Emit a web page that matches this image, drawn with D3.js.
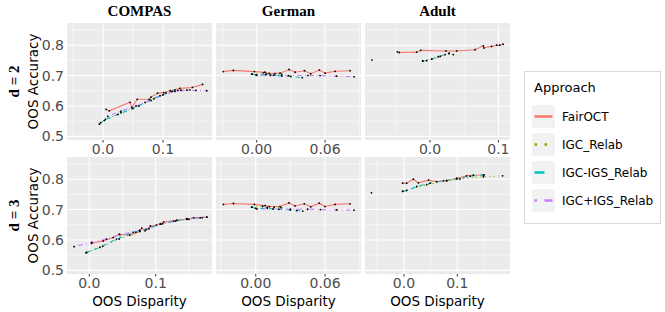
<!DOCTYPE html>
<html>
<head>
<meta charset="utf-8">
<script src="https://cdn.jsdelivr.net/npm/d3@7"></script>
<style>
  body { margin: 0; background: #fff; }
  svg { display: block; }
</style>
</head>
<body>
<div id="chart"></div>
<script>
// categories
var datasets = ["COMPAS", "German", "Adult"];
var depths = ["d = 2", "d = 3"];
var approaches = ["FairOCT", "IGC_Relab", "IGC-IGS_Relab", "IGC+IGS_Relab"];

// axis ticks / ranges (one per dataset column, one range per row)
var yTicks = [0.5, 0.6, 0.7, 0.8];
var yRange = [0.488, 0.873];
var xTicks = [[0, 0.1], [0, 0.06], [0, 0.1]];
var xTickLabels = [["0.0", "0.1"], ["0.00", "0.06"], ["0.0", "0.1"]];
var xRangeD2 = [[-0.06, 0.1817], [-0.0357, 0.0915], [-0.0951, 0.117]];
var xRangeD3 = [[-0.0336, 0.1848], [-0.0344, 0.0911], [-0.0731, 0.1988]];

// series values: [OOS disparity, OOS accuracy]
var compas2_fairoct = [[0.005,0.589],[0.0105,0.584],[0.045,0.612],[0.048,0.595],[0.057,0.622],[0.077,0.622],[0.080,0.629],[0.091,0.642],[0.101,0.644],[0.112,0.650],[0.120,0.653],[0.128,0.658],[0.149,0.661],[0.166,0.671]];
var compas2_igc = [[-0.004,0.545],[0.002,0.552],[0.030,0.578],[0.060,0.600],[0.085,0.624],[0.105,0.643],[0.125,0.651],[0.145,0.653]];
var compas2_igcigs = [[-0.006,0.540],[0.004,0.556],[0.025,0.572],[0.050,0.592],[0.070,0.612],[0.095,0.634],[0.115,0.648],[0.130,0.652]];
var compas2_igcplus = [[0.008,0.566],[0.030,0.583],[0.055,0.600],[0.080,0.618],[0.100,0.636],[0.120,0.648],[0.140,0.652],[0.155,0.651],[0.173,0.650]];

var compas3_fairoct = [[0.0035,0.589],[0.021,0.597],[0.036,0.608],[0.045,0.619],[0.061,0.616],[0.076,0.628],[0.079,0.639],[0.084,0.630],[0.092,0.646],[0.101,0.649],[0.112,0.659],[0.132,0.665],[0.147,0.668],[0.157,0.673],[0.177,0.675]];
var compas3_igc = [[-0.004,0.559],[0.020,0.579],[0.045,0.603],[0.070,0.625],[0.090,0.637],[0.110,0.653],[0.130,0.662],[0.150,0.668],[0.170,0.673]];
var compas3_igcigs = [[-0.005,0.558],[0.016,0.576],[0.041,0.603],[0.066,0.625],[0.086,0.635],[0.107,0.652],[0.127,0.662],[0.147,0.669],[0.167,0.673]];
var compas3_igcplus = [[-0.023,0.578],[0.0035,0.592],[0.026,0.603],[0.046,0.617],[0.076,0.632],[0.107,0.652],[0.147,0.670],[0.177,0.675]];

var german2_fairoct = [[-0.0293,0.713],[-0.0205,0.717],[-0.002,0.713],[0.0073,0.711],[0.011,0.707],[0.0205,0.708],[0.0284,0.720],[0.0337,0.711],[0.0419,0.716],[0.0474,0.706],[0.055,0.718],[0.060,0.708],[0.0688,0.714],[0.082,0.716]];
var german2_igc = [[-0.004,0.705],[0.0059,0.709],[0.0088,0.705],[0.016,0.706],[0.022,0.704]];
var german2_igcigs = [[-0.0044,0.705],[-0.0006,0.702],[0.008,0.703],[0.015,0.701],[0.022,0.699],[0.030,0.697],[0.040,0.693]];
var german2_igcplus = [[0.0,0.701],[0.012,0.701],[0.028,0.700],[0.045,0.700],[0.0556,0.700],[0.070,0.698],[0.0855,0.696]];

var german3_fairoct = [[-0.028,0.717],[-0.0193,0.720],[-0.0012,0.717],[0.0081,0.713],[0.0118,0.710],[0.021,0.710],[0.0288,0.722],[0.034,0.712],[0.042,0.719],[0.0476,0.709],[0.055,0.721],[0.060,0.710],[0.0687,0.717],[0.0816,0.719]];
var german3_igc = [[-0.0035,0.708],[0.006,0.711],[0.010,0.707],[0.016,0.708],[0.022,0.706]];
var german3_igcigs = [[-0.0035,0.708],[0.000,0.704],[0.010,0.704],[0.020,0.701],[0.030,0.699],[0.0355,0.697],[0.0407,0.695]];
var german3_igcplus = [[0.001,0.702],[0.015,0.702],[0.030,0.701],[0.045,0.701],[0.056,0.700],[0.070,0.699],[0.085,0.698]];

var adult2_fairoct = [[-0.0478,0.778],[-0.0449,0.776],[-0.0195,0.777],[-0.0137,0.783],[0.0234,0.781],[0.039,0.781],[0.0659,0.785],[0.078,0.798],[0.079,0.791],[0.090,0.796],[0.0976,0.800],[0.102,0.800],[0.107,0.803]];
var adult2_igc = [[-0.0107,0.748],[0.0024,0.754],[0.015,0.763],[0.028,0.773],[0.034,0.769]];
var adult2_igcigs = [[-0.0107,0.748],[-0.005,0.749],[0.0024,0.754],[0.012,0.762],[0.022,0.769],[0.028,0.773]];
var adult2_igcplus = [[-0.085,0.751]];

var adult3_fairoct = [[-0.0025,0.787],[0.005,0.787],[0.0175,0.800],[0.027,0.788],[0.046,0.797],[0.061,0.792],[0.080,0.795],[0.099,0.803],[0.1175,0.811],[0.130,0.813],[0.150,0.814]];
var adult3_igc = [[-0.0025,0.760],[0.0425,0.782],[0.080,0.795],[0.105,0.801],[0.149,0.808],[0.185,0.811]];
var adult3_igcigs = [[-0.0025,0.760],[0.005,0.763],[0.024,0.776],[0.049,0.787],[0.074,0.795],[0.099,0.801],[0.124,0.810],[0.149,0.814]];
var adult3_igcplus = [[-0.061,0.755]];

// panel lookup: rows = depth, cols = dataset, series in approach order
var panelSeries = [
	[[compas2_fairoct, compas2_igc, compas2_igcigs, compas2_igcplus],
	 [german2_fairoct, german2_igc, german2_igcigs, german2_igcplus],
	 [adult2_fairoct, adult2_igc, adult2_igcigs, adult2_igcplus]],
	[[compas3_fairoct, compas3_igc, compas3_igcigs, compas3_igcplus],
	 [german3_fairoct, german3_igc, german3_igcigs, german3_igcplus],
	 [adult3_fairoct, adult3_igc, adult3_igcigs, adult3_igcplus]]
];
var xRanges = [xRangeD2, xRangeD3];

var width = 665, height = 312;
var panelX = [67, 216, 365], panelW = 145;
var panelY = [23, 157], panelH = 117;

var colors = d3.scaleOrdinal()
	.domain(approaches)
	.range(["#F8766D", "#7CAE00", "#00BFC4", "#C77CFF"]);
var lw = 1.1;
function dashes(a, w) {
	// ggplot linetypes: solid, dotted, dashed, dotdash
	if (a == "IGC_Relab") return [1, 3].map(function (v) { return v * w; }).join(",");
	if (a == "IGC-IGS_Relab") return [4, 4].map(function (v) { return v * w; }).join(",");
	if (a == "IGC+IGS_Relab") return [1, 3, 4, 3].map(function (v) { return v * w; }).join(",");
	return null;
}

var svg = d3.select("#chart").append("svg")
	.attr("width", width)
	.attr("height", height)
	.style("font-family", "'DejaVu Sans', sans-serif");

var serif = "'Liberation Serif', 'DejaVu Serif', serif";

depths.forEach(function (dep, r) {
	var y = d3.scaleLinear().domain(yRange).range([panelY[r] + panelH, panelY[r]]);

	datasets.forEach(function (ds, c) {
		var x = d3.scaleLinear().domain(xRanges[r][c]).range([panelX[c], panelX[c] + panelW]);
		var g = svg.append("g");

		g.append("rect")
			.attr("x", panelX[c]).attr("y", panelY[r])
			.attr("width", panelW).attr("height", panelH)
			.attr("fill", "#EBEBEB");

		// minor grid
		var step = xTicks[c][1] - xTicks[c][0];
		var xMinor = [xTicks[c][0] - step / 2];
		xTicks[c].forEach(function (t) { xMinor.push(t + step / 2); });
		xMinor = xMinor.filter(function (v) { return v > xRanges[r][c][0] && v < xRanges[r][c][1]; });
		var yMinor = [0.55, 0.65, 0.75, 0.85];

		g.selectAll(".xminor").data(xMinor).enter().append("line")
			.attr("x1", function (d) { return x(d); }).attr("x2", function (d) { return x(d); })
			.attr("y1", panelY[r]).attr("y2", panelY[r] + panelH)
			.attr("stroke", "#fff").attr("stroke-width", 0.55);
		g.selectAll(".yminor").data(yMinor).enter().append("line")
			.attr("y1", function (d) { return y(d); }).attr("y2", function (d) { return y(d); })
			.attr("x1", panelX[c]).attr("x2", panelX[c] + panelW)
			.attr("stroke", "#fff").attr("stroke-width", 0.55);
		// major grid
		g.selectAll(".xmajor").data(xTicks[c]).enter().append("line")
			.attr("x1", function (d) { return x(d); }).attr("x2", function (d) { return x(d); })
			.attr("y1", panelY[r]).attr("y2", panelY[r] + panelH)
			.attr("stroke", "#fff").attr("stroke-width", 1.1);
		g.selectAll(".ymajor").data(yTicks).enter().append("line")
			.attr("y1", function (d) { return y(d); }).attr("y2", function (d) { return y(d); })
			.attr("x1", panelX[c]).attr("x2", panelX[c] + panelW)
			.attr("stroke", "#fff").attr("stroke-width", 1.1);

		// lines then points
		var line = d3.line()
			.x(function (d) { return x(d[0]); })
			.y(function (d) { return y(d[1]); });
		var ser = panelSeries[r][c];
		approaches.forEach(function (a, i) {
			var pts = ser[i].slice().sort(function (p, q) { return p[0] - q[0]; });
			if (pts.length > 1) {
				g.append("path")
					.datum(pts)
					.attr("d", line)
					.attr("fill", "none")
					.attr("stroke", colors(a))
					.attr("stroke-width", lw)
					.attr("stroke-dasharray", dashes(a, lw));
			}
		});
		approaches.forEach(function (a, i) {
			g.selectAll(".pt" + i).data(ser[i]).enter().append("circle")
				.attr("cx", function (d) { return x(d[0]); })
				.attr("cy", function (d) { return y(d[1]); })
				.attr("r", 0.9)
				.attr("fill", "#000");
		});

		// x axis ticks + labels
		g.selectAll(".xt").data(xTicks[c]).enter().append("line")
			.attr("x1", function (d) { return x(d); }).attr("x2", function (d) { return x(d); })
			.attr("y1", panelY[r] + panelH).attr("y2", panelY[r] + panelH + 2.5)
			.attr("stroke", "#333").attr("stroke-width", 1);
		g.selectAll(".xl").data(xTicks[c]).enter().append("text")
			.attr("x", function (d) { return x(d); })
			.attr("y", panelY[r] + panelH + 14)
			.attr("text-anchor", "middle")
			.attr("font-size", 14)
			.attr("fill", "#4D4D4D")
			.text(function (d, i) { return xTickLabels[c][i]; });

		if (c == 0) {
			g.selectAll(".yl").data(yTicks).enter().append("text")
				.attr("x", panelX[0] - 3)
				.attr("y", function (d) { return y(d); })
				.attr("dy", "0.36em")
				.attr("text-anchor", "end")
				.attr("font-size", 14)
				.attr("fill", "#4D4D4D")
				.text(d3.format(".1f"));
		}
		if (r == 0) {
			svg.append("text")
				.attr("x", panelX[c] + panelW / 2)
				.attr("y", 16)
				.attr("text-anchor", "middle")
				.attr("font-family", serif)
				.attr("font-weight", "bold")
				.attr("font-size", 15)
				.text(ds);
		}
		if (r == 1) {
			svg.append("text")
				.attr("x", panelX[c] + panelW / 2)
				.attr("y", 306)
				.attr("text-anchor", "middle")
				.attr("font-size", 13.5)
				.text("OOS Disparity");
		}
	});

	var cy = panelY[r] + panelH / 2;
	svg.append("text")
		.attr("transform", "translate(33," + cy + ") rotate(-90)")
		.attr("dy", "0.36em")
		.attr("text-anchor", "middle")
		.attr("font-size", 13.5)
		.text("OOS Accuracy");
	svg.append("text")
		.attr("transform", "translate(14," + cy + ") rotate(-90)")
		.attr("dy", "0.36em")
		.attr("text-anchor", "middle")
		.attr("font-family", serif)
		.attr("font-weight", "bold")
		.attr("font-size", 15)
		.text(dep);
});

// legend
var leg = svg.append("g");
leg.append("rect")
	.attr("x", 524.5).attr("y", 71.5)
	.attr("width", 136).attr("height", 152)
	.attr("fill", "#fff").attr("stroke", "#D9D9D9");
leg.append("text")
	.attr("x", 534).attr("y", 92)
	.attr("font-size", 13)
	.text("Approach");
var ky = d3.scaleBand().domain(approaches).range([105, 217]);
approaches.forEach(function (a) {
	var y0 = ky(a);
	leg.append("rect")
		.attr("x", 532).attr("y", y0)
		.attr("width", 23).attr("height", 23)
		.attr("fill", "#F2F2F2");
	leg.append("line")
		.attr("x1", 534.5).attr("x2", 552.5)
		.attr("y1", y0 + 11.5).attr("y2", y0 + 11.5)
		.attr("stroke", colors(a))
		.attr("stroke-width", 2.5)
		.attr("stroke-dasharray", dashes(a, 2.5));
	leg.append("text")
		.attr("x", 562).attr("y", y0 + 11.5)
		.attr("dy", "0.36em")
		.attr("font-size", 12)
		.text(a);
});
</script>
</body>
</html>
